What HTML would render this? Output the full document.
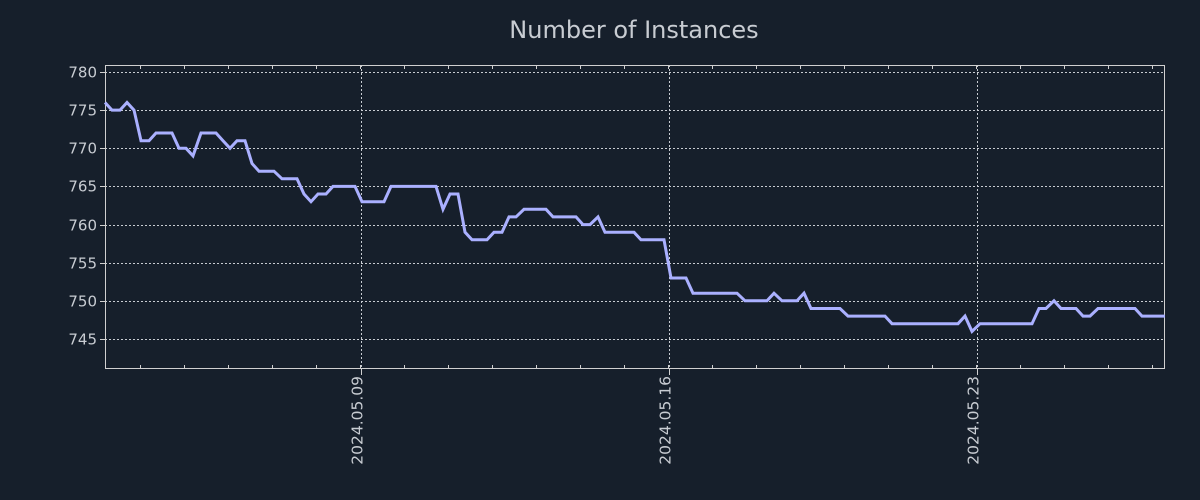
<!DOCTYPE html>
<html><head><meta charset="utf-8"><style>
body{margin:0;background:#161f2b;}
svg{display:block}
text{font-family:"DejaVu Sans","Liberation Sans",sans-serif;fill:#c8ccd2}
</style></head><body>
<svg id="s" width="1200" height="500" xmlns="http://www.w3.org/2000/svg">
<rect width="1200" height="500" fill="#161f2b"/>
<text x="634" y="38" font-size="24" text-anchor="middle">Number of Instances</text>
<g id="g"></g>
<rect x="105.5" y="65.5" width="1059" height="303" fill="none" stroke="#d0d0d0" stroke-width="1"/>
<polyline id="p" fill="none" stroke="#aab0ff" stroke-width="3" stroke-linejoin="miter"/>
</svg>
<script>
var g=document.getElementById('g'),h='';
function Y(v){return 72+(780-v)*7.628;}
for(var v=745;v<=780;v+=5){var y=Math.round(Y(v))+0.5;
h+='<line x1="105" x2="1165" y1="'+y+'" y2="'+y+'" stroke="#c8ccd2" stroke-dasharray="2,2" stroke-width="1"/>';
h+='<line x1="100" x2="105" y1="'+y+'" y2="'+y+'" stroke="#d0d0d0"/>';
h+='<text x="97" y="'+(y+5)+'" font-size="15" text-anchor="end">'+v+'</text>';}
for(var x=140;x<1165;x+=44){var xx=Math.round(x)+0.5;
h+='<line x1="'+xx+'" x2="'+xx+'" y1="65" y2="69" stroke="#d0d0d0"/><line x1="'+xx+'" x2="'+xx+'" y1="365" y2="369" stroke="#d0d0d0"/>';}
[[361.5,'2024.05.09'],[669.5,'2024.05.16'],[977.5,'2024.05.23']].forEach(function(d){
h+='<line x1="'+d[0]+'" x2="'+d[0]+'" y1="65" y2="369" stroke="#c8ccd2" stroke-dasharray="2,2"/>';
h+='<line x1="'+d[0]+'" x2="'+d[0]+'" y1="369" y2="375" stroke="#d0d0d0"/>';
h+='<text font-size="15.5" text-anchor="end" transform="translate('+(d[0]+1)+',376) rotate(-90)">'+d[1]+'</text>';});
g.innerHTML=h;
var d=[[105,776],[112,775],[120,775],[127,776],[134,775],[141,771],[149,771],[156,772],[172,772],[179,770],[186,770],[193,769],[201,772],[216,772],[223,771],[230,770],[237,771],[245,771],[252,768],[259,767],[274,767],[282,766],[297,766],[304,764],[311,763],[318,764],[326,764],[333,765],[355,765],[362,763],[384,763],[391,765],[436,765],[443,762],[450,764],[458,764],[465,759],[472,758],[487,758],[494,759],[502,759],[509,761],[516,761],[524,762],[546,762],[553,761],[576,761],[583,760],[590,760],[598,761],[605,759],[634,759],[641,758],[664,758],[671,753],[686,753],[693,751],[737,751],[745,750],[767,750],[774,751],[782,750],[797,750],[804,751],[811,749],[840,749],[848,748],[885,748],[892,747],[958,747],[965,748],[972,746],[980,747],[1032,747],[1039,749],[1046,749],[1054,750],[1061,749],[1076,749],[1083,748],[1090,748],[1098,749],[1135,749],[1142,748],[1165,748]];
document.getElementById('p').setAttribute('points',d.map(function(a){return a[0]+','+Y(a[1]).toFixed(1)}).join(' '));
</script>
</body></html>
